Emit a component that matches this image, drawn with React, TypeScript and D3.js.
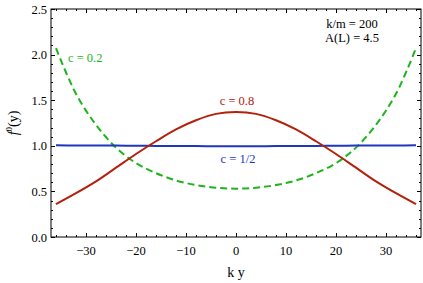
import React, { useEffect, useRef } from 'react';
import * as d3 from 'd3';

// sample positions (k y) and values
const kyValues = [-36, -32, -28, -24, -20, -16, -12, -8, -4, 0, 4, 8, 12, 16, 20, 24, 28, 32, 36];
const c02Values = [2.07, 1.57, 1.23, 0.98, 0.81, 0.70, 0.62, 0.57, 0.54, 0.53, 0.54, 0.57, 0.62, 0.70, 0.81, 0.98, 1.23, 1.57, 2.07];
const c08Values = [0.36, 0.48, 0.61, 0.76, 0.91, 1.05, 1.18, 1.28, 1.35, 1.37, 1.35, 1.28, 1.18, 1.05, 0.91, 0.76, 0.61, 0.48, 0.36];
const cHalfValues = [1.005, 1.004, 1.003, 1.002, 1.0, 0.999, 0.998, 0.997, 0.996, 0.996, 0.996, 0.997, 0.998, 0.999, 1.0, 1.002, 1.003, 1.004, 1.005];

const xTicks = [-30, -20, -10, 0, 10, 20, 30];
const yTicks = [0, 0.5, 1, 1.5, 2, 2.5];

const GREEN = '#1eb41e';
const RED = '#b4200c';
const BLUE = '#1c36c0';
const FONT = '"Liberation Serif", "DejaVu Serif", serif';

const W = 423;
const H = 283;
const margin = { left: 51, right: 2, top: 9, bottom: 46 };

const App: React.FC = () => {
  const svgRef = useRef<SVGSVGElement>(null);

  useEffect(() => {
    if (!svgRef.current) return;
    const svg = d3.select(svgRef.current);
    svg.selectAll('*').remove();

    const x = d3.scaleLinear().domain([-37, 37]).range([margin.left, W - margin.right]);
    const y = d3.scaleLinear().domain([0, 2.5]).range([H - margin.bottom, margin.top]);
    const [x0, x1] = x.range();
    const [y0, y1] = y.range();

    // frame
    svg.append('rect')
      .attr('x', x0).attr('y', y1)
      .attr('width', x1 - x0).attr('height', y0 - y1)
      .attr('fill', 'none').attr('stroke', '#000').attr('stroke-width', 1);

    // ticks on all four sides, pointing inward
    const ticks = svg.append('g').attr('stroke', '#000').attr('stroke-width', 1);
    d3.range(-36, 37, 2).forEach(v => {
      const major = v % 10 === 0;
      const len = major ? 4 : 2;
      const px = Math.round(x(v)) + 0.5;
      ticks.append('line').attr('x1', px).attr('x2', px).attr('y1', y0).attr('y2', y0 - len);
      ticks.append('line').attr('x1', px).attr('x2', px).attr('y1', y1).attr('y2', y1 + len);
    });
    d3.range(0, 26, 1).forEach(i => {
      const v = i / 10;
      const major = i % 5 === 0;
      const len = major ? 4 : 2;
      const py = Math.round(y(v)) + 0.5;
      ticks.append('line').attr('x1', x0).attr('x2', x0 + len).attr('y1', py).attr('y2', py);
      ticks.append('line').attr('x1', x1).attr('x2', x1 - len).attr('y1', py).attr('y2', py);
    });

    // tick labels
    svg.append('g').selectAll('text').data(xTicks).enter().append('text')
      .attr('x', d => x(d)).attr('y', y0 + 18)
      .attr('text-anchor', 'middle')
      .attr('font-family', FONT).attr('font-size', 12.5)
      .text(d => (d < 0 ? '\u2212' + Math.abs(d) : String(d)));

    svg.append('g').selectAll('text').data(yTicks).enter().append('text')
      .attr('x', x0 - 4).attr('y', d => y(d) + 4.5)
      .attr('text-anchor', 'end')
      .attr('font-family', FONT).attr('font-size', 12.5)
      .text(d => d.toFixed(1));

    // axis titles
    svg.append('text')
      .attr('x', x(0)).attr('y', 277)
      .attr('text-anchor', 'middle')
      .attr('font-family', FONT).attr('font-size', 14)
      .text('k y');

    const yl = svg.append('text')
      .attr('transform', `translate(18,${(y0 + y1) / 2}) rotate(-90)`)
      .attr('text-anchor', 'middle')
      .attr('font-family', FONT).attr('font-size', 14);
    yl.append('tspan').attr('font-style', 'italic').text('f');
    yl.append('tspan').attr('font-size', 9).attr('dy', -6).text('0');
    yl.append('tspan').attr('dy', 6).text('(y)');

    // curves
    const series = [
      { values: c02Values, color: GREEN, dash: '7,4' },
      { values: cHalfValues, color: BLUE, dash: null },
      { values: c08Values, color: RED, dash: null }
    ];
    const line = d3.line<[number, number]>()
      .x(d => x(d[0]))
      .y(d => y(d[1]))
      .curve(d3.curveCatmullRom.alpha(0.5));

    series.forEach(s => {
      const pts = kyValues.map((k, i) => [k, s.values[i]] as [number, number]);
      svg.append('path')
        .datum(pts)
        .attr('d', line)
        .attr('fill', 'none')
        .attr('stroke', s.color)
        .attr('stroke-width', 2)
        .attr('stroke-dasharray', s.dash);
    });

    // curve labels
    const labels = [
      { text: 'c = 0.2', px: 68, py: 62, color: GREEN, anchor: 'start' },
      { text: 'c = 0.8', px: 237, py: 105, color: RED, anchor: 'middle' },
      { text: 'c = 1/2', px: 238, py: 163, color: BLUE, anchor: 'middle' },
      { text: 'k/m = 200', px: 352, py: 28, color: '#000', anchor: 'middle' },
      { text: 'A(L) = 4.5', px: 352, py: 42, color: '#000', anchor: 'middle' }
    ];
    svg.append('g').selectAll('text').data(labels).enter().append('text')
      .attr('x', d => d.px).attr('y', d => d.py)
      .attr('text-anchor', d => d.anchor)
      .attr('fill', d => d.color)
      .attr('font-family', FONT).attr('font-size', 12.5)
      .text(d => d.text);
  }, []);

  return (
    <svg
      ref={svgRef}
      width={W}
      height={H}
      style={{ position: 'absolute', left: 0, top: 0, background: '#fff' }}
    />
  );
};

export default App;
